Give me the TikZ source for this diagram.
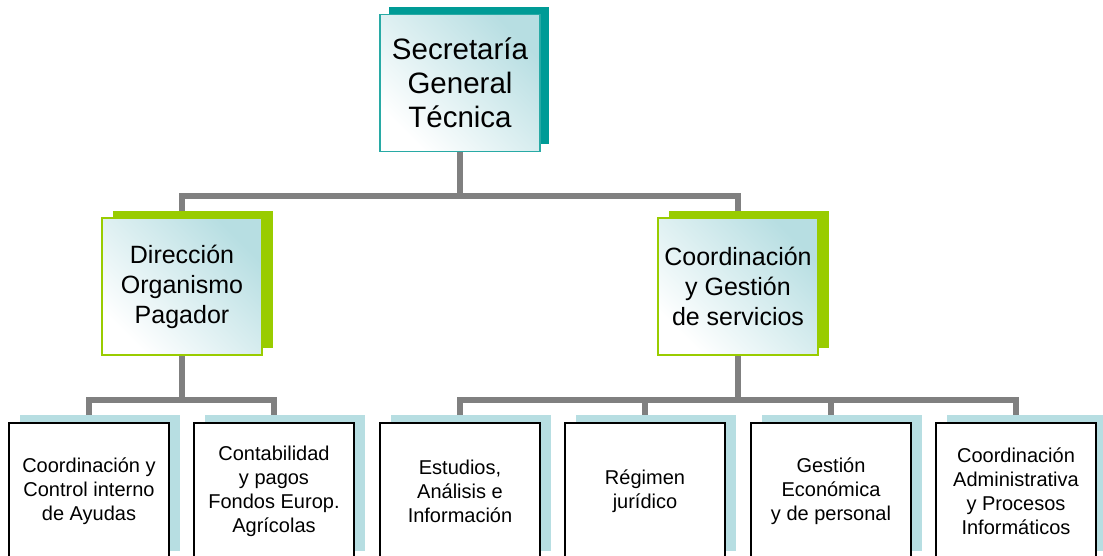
\documentclass[tikz,border=0pt]{standalone}
\usepackage{fontspec}
\setmainfont{Liberation Sans}
\usepackage{tikz}
\usetikzlibrary{shadows}
\usetikzlibrary{backgrounds}

\definecolor{tealDark}{RGB}{0,155,150}
\definecolor{tealEdge}{RGB}{40,170,165}
\definecolor{limeGreen}{RGB}{153,204,0}
\definecolor{paleBlue}{RGB}{183,222,226}
\definecolor{barGrey}{RGB}{128,128,128}

\begin{document}
\begin{tikzpicture}[x=1pt,y=-1pt,
    bar/.style={draw=barGrey,line width=5.5pt,line join=miter},
    frontbox/.style={rectangle,inner sep=0pt,align=center,
        minimum width=160pt,minimum height=137pt},
    headbox/.style={frontbox,draw=tealEdge,line width=1.5pt,
        bottom color=white,top color=paleBlue,shading angle=-45,
        general shadow={fill=tealDark,shadow xshift=9pt,shadow yshift=8pt},
        font=\fontsize{29.5}{34}\selectfont},
    areabox/.style={frontbox,draw=limeGreen,line width=1.5pt,
        bottom color=white,top color=paleBlue,shading angle=-45,
        general shadow={fill=limeGreen,shadow xshift=11pt,shadow yshift=7.5pt},
        font=\fontsize{25}{30}\selectfont},
    unitbox/.style={frontbox,minimum height=136pt,draw=black,line width=2.2pt,fill=white,
        general shadow={fill=paleBlue,shadow xshift=10.5pt,shadow yshift=8.5pt},
        font=\fontsize{20}{24}\selectfont}]

  \useasboundingbox (0,0) rectangle (1103,555);
  \clip (0,0) rectangle (1103,555);

  % top level
  \node[headbox] (sgt) at (460,83) {Secretaría\\General\\Técnica};

  % second level
  \node[areabox] (dop) at (182,286.5) {Dirección\\Organismo\\Pagador};
  \node[areabox] (cgs) at (738,286.5) {Coordinación\\y Gestión\\de servicios};

  % units
  \node[unitbox] (b1) at (89,491)   {Coordinación y\\Control interno\\de Ayudas};
  \node[unitbox] (b2) at (274,491)  {Contabilidad\\y pagos\\Fondos Europ.\\Agrícolas};
  \node[unitbox] (b3) at (460,491)  {Estudios,\\Análisis e\\Información};
  \node[unitbox] (b4) at (645,491)  {Régimen\\jurídico};
  \node[unitbox] (b5) at (831,491)  {Gestión\\Económica\\y de personal};
  \node[unitbox] (b6) at (1016,491) {Coordinación\\Administrativa\\y Procesos\\Informáticos};

  \coordinate (topbus) at (460,196);
  \coordinate (leftbus) at (182,400);
  \coordinate (rightbus) at (738,400);

  \begin{scope}[on background layer]
    \draw[bar] (sgt.south) -- (topbus);
    \draw[bar] (dop.north) |- (topbus) -| (cgs.north);
    \draw[bar] (dop.south) -- (leftbus);
    \draw[bar] (b1.north) |- (leftbus) -| (b2.north);
    \draw[bar] (cgs.south) -- (rightbus);
    \draw[bar] (b3.north) |- (rightbus) -| (b6.north);
    \draw[bar] (b4.north) -- (b4.north |- rightbus);
    \draw[bar] (b5.north) -- (b5.north |- rightbus);
  \end{scope}

\end{tikzpicture}
\end{document}
